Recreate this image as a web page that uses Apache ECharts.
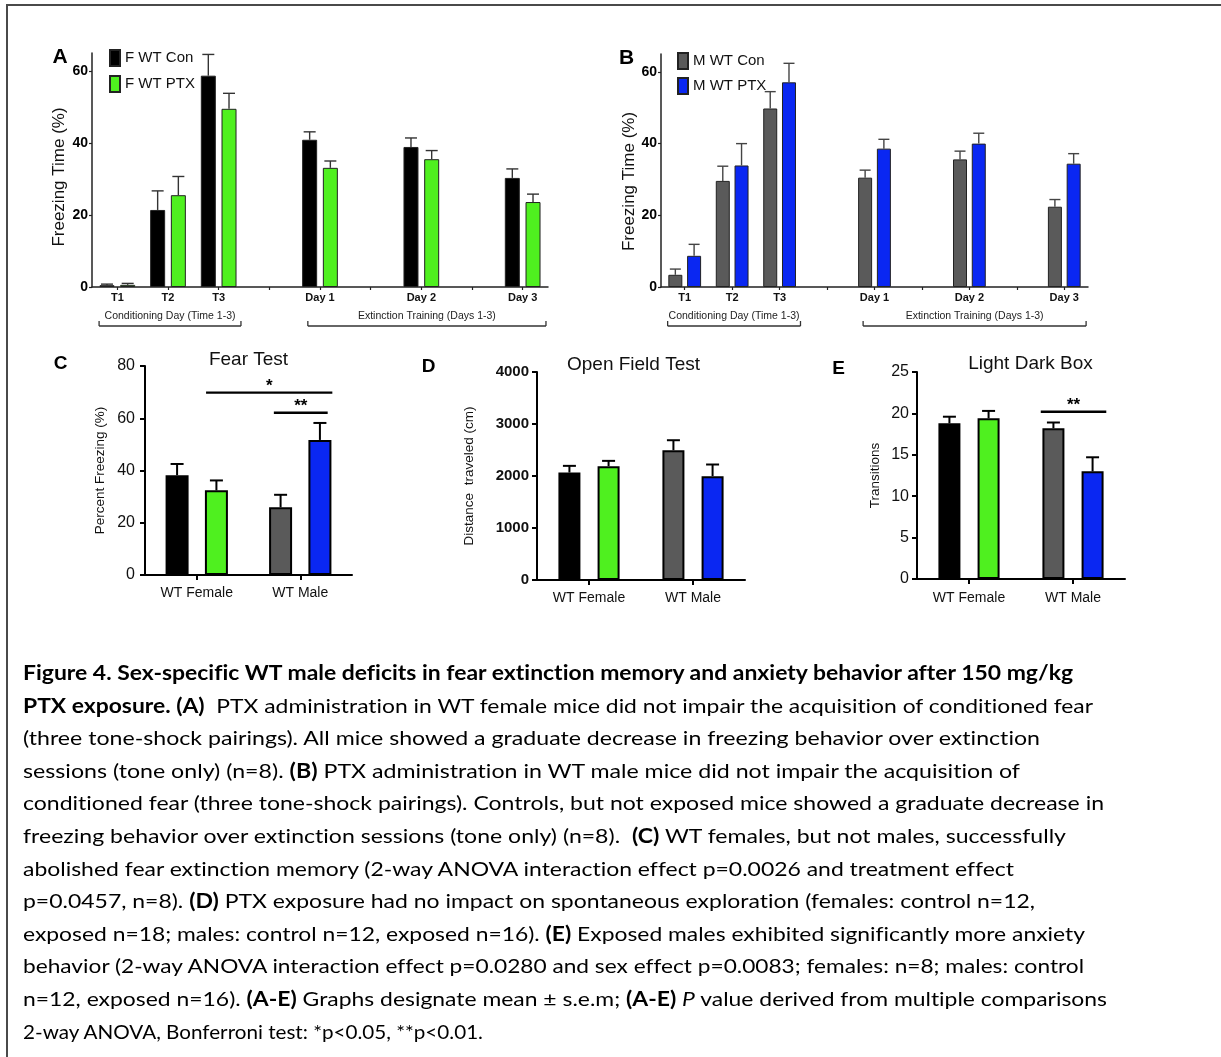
<!DOCTYPE html>
<html>
<head>
<meta charset="utf-8">
<script src="https://cdn.jsdelivr.net/npm/echarts@6/dist/echarts.min.js"></script>
<style>
  html, body { margin: 0; padding: 0; background: #fff; }
  #chart { position: absolute; left: 0; top: 0; width: 1221px; height: 1057px; }
  #frame { position: absolute; left: 6px; top: 4px; width: 1215px; height: 1053px;
           border-top: 2px solid #4a4a4a; border-left: 2px solid #4a4a4a; box-sizing: border-box; pointer-events: none; }
  #caption { position: absolute; left: 0; top: 0; width: 1221px; height: 1057px;
             font-family: Lato, "Open Sans", sans-serif; font-size: 20px; color: #000;
             font-variant-ligatures: none; font-feature-settings: "liga" 0, "dlig" 0; }
  .cl { position: absolute; left: 23px; white-space: pre; line-height: 32px; transform-origin: 0 50%; }
  .cl b { font-weight: 700; }
  .cl i { font-style: italic; }
</style>
</head>
<body>
<div id="chart"></div>
<div id="frame"></div>
<div id="caption"></div>
<script>
// ---------------- DATA ----------------
const slotsAB = ['T1', 'T2', 'T3', ' ', 'Day 1', '  ', 'Day 2', '   ', 'Day 3'];
const fConMean = [0.5, 21.4, 58.7, null, 40.9, null, 38.9, null, 30.3];
const fConSem  = [0.3, 5.3, 5.9, null, 2.2, null, 2.5, null, 2.5];
const fPtxMean = [0.6, 25.5, 49.5, null, 33.1, null, 35.5, null, 23.6];
const fPtxSem  = [0.4, 5.2, 4.3, null, 1.9, null, 2.4, null, 2.2];
const mConMean = [3.4, 29.6, 49.8, null, 30.5, null, 35.6, null, 22.4];
const mConSem  = [1.6, 4.1, 4.7, null, 2.1, null, 2.3, null, 2.0];
const mPtxMean = [8.7, 33.9, 57.1, null, 38.6, null, 40.0, null, 34.4];
const mPtxSem  = [3.2, 6.1, 5.3, null, 2.6, null, 2.9, null, 2.8];
const ticksAB = [0, 20, 40, 60];
const bracketLabels = ['Conditioning Day (Time 1-3)', 'Extinction Training (Days 1-3)'];
const bracketSpans = [[-0.36, 2.44], [3.76, 8.46]];

const groupsCDE = ['WT Female', 'WT Male'];
const fearConMean = [38.2, 25.9], fearConSem = [4.3, 4.8];
const fearPtxMean = [32.4, 51.7], fearPtxSem = [3.8, 6.5];
const ofConMean = [2067, 2496], ofConSem = [128, 192];
const ofPtxMean = [2189, 1997], ofPtxSem = [102, 224];
const ldConMean = [18.8, 18.2], ldConSem = [0.8, 0.7];
const ldPtxMean = [19.4, 13.0], ldPtxSem = [0.9, 1.7];
const ticksC = [0, 20, 40, 60, 80];
const ticksD = [0, 1000, 2000, 3000, 4000];
const ticksE = [0, 5, 10, 15, 20, 25];
const sigC = [{ from: 0.09, to: 1.31, y: 69.8, text: '*' }, { from: 0.745, to: 1.265, y: 62.1, text: '**' }];
const sigE = [{ from: 0.69, to: 1.32, y: 20.2, text: '**' }];

// ---------------- STYLE ----------------
const FONT = '"Liberation Sans", Arial, Helvetica, sans-serif';
const C_BLACK = '#000000', C_GREEN = '#4ff01f', C_GRAY = '#5a5a5a', C_BLUE = '#0a27f2';
const conColors = [C_BLACK, C_GRAY], ptxColors = [C_GREEN, C_BLUE];

const grids = [
  { left: 92, top: 53, width: 456, height: 234 },
  { left: 661, top: 54, width: 427, height: 233 },
  { left: 145, top: 366, width: 207, height: 209 },
  { left: 537, top: 372, width: 208, height: 208 },
  { left: 917, top: 372, width: 208, height: 207 }
];
const barCfg = [
  { w: 15, gap: 0.38, bw: 1, bc: '#222', cap: 6, elw: 1.4, ec: '#333' },
  { w: 14, gap: 0.34, bw: 1, bc: '#222', cap: 5.5, elw: 1.4, ec: '#444' },
  { w: 23, gap: 0.71, bw: 2, bc: '#000', cap: 6.5, elw: 2, ec: '#000' },
  { w: 22, gap: 0.78, bw: 2, bc: '#000', cap: 6.5, elw: 2, ec: '#000' },
  { w: 22, gap: 0.78, bw: 2, bc: '#000', cap: 6.5, elw: 2, ec: '#000' }
];

// ---------------- HELPERS ----------------
function errData(mean, sem) {
  const out = [];
  mean.forEach((m, i) => { if (m != null) out.push([i, m, m + sem[i]]); });
  return out;
}
function errRender(off, half, lw, color) {
  return function (params, api) {
    const x = api.value(0);
    const base = api.coord([x, api.value(1)]);
    const top = api.coord([x, api.value(2)]);
    const cx = base[0] + off;
    return {
      type: 'group', children: [
        { type: 'line', shape: { x1: cx, y1: base[1], x2: cx, y2: top[1] }, style: { stroke: color, lineWidth: lw, fill: 'none' } },
        { type: 'line', shape: { x1: cx - half, y1: top[1], x2: cx + half, y2: top[1] }, style: { stroke: color, lineWidth: lw, fill: 'none' } }
      ]
    };
  };
}
function textEl(x, y, text, font, fill) {
  return { type: 'text', x: x, y: y, silent: true,
    style: { text: text, font: font, fill: fill || '#000', align: 'center', verticalAlign: 'middle',
             textAlign: 'center', textVerticalAlign: 'middle' } };
}
function barSeries(name, gi, data, color, cfg) {
  return {
    type: 'bar', name: name, xAxisIndex: gi, yAxisIndex: gi, data: data,
    barWidth: cfg.w, barGap: (cfg.gap * 100) + '%',
    itemStyle: { color: color, borderColor: cfg.bc, borderWidth: cfg.bw },
    emphasis: { disabled: true }, z: 2
  };
}
function errSeries(gi, mean, sem, sign) {
  const cfg = barCfg[gi];
  const off = sign * cfg.w * (1 + cfg.gap) / 2;
  return {
    type: 'custom', xAxisIndex: gi, yAxisIndex: gi, data: errData(mean, sem),
    encode: { x: 0, y: [1, 2] }, renderItem: errRender(off, cfg.cap, cfg.elw, cfg.ec), z: 3, silent: true
  };
}
function sigSeries(gi, sigs) {
  return {
    type: 'custom', xAxisIndex: gi, yAxisIndex: gi, silent: true, z: 4,
    data: sigs.map(s => [0, s.y]), encode: { x: 0, y: 1 },
    renderItem: function (params, api) {
      const s = sigs[params.dataIndex];
      const c0 = api.coord([0, api.value(1)]);
      const w = api.size([1, 0])[0];
      const x1 = c0[0] + s.from * w, x2 = c0[0] + s.to * w;
      return { type: 'group', children: [
        { type: 'line', shape: { x1: x1, y1: c0[1], x2: x2, y2: c0[1] }, style: { stroke: '#000', lineWidth: 2.4, fill: 'none' } },
        textEl((x1 + x2) / 2, c0[1] - 6, s.text, 'bold 17px ' + FONT, '#000')
      ] };
    }
  };
}
function bracketSeries(gi) {
  return {
    type: 'custom', xAxisIndex: gi, yAxisIndex: gi, silent: true, z: 4, clip: false,
    data: bracketSpans.map(() => [0, 0]), encode: { x: 0, y: 1 },
    renderItem: function (params, api) {
      const sp = bracketSpans[params.dataIndex];
      const c0 = api.coord([0, 0]);
      const w = api.size([1, 0])[0];
      const x1 = c0[0] + sp[0] * w, x2 = c0[0] + sp[1] * w;
      const yl = c0[1] + 39;
      const st = { stroke: '#333', lineWidth: 1.3, fill: 'none' };
      return { type: 'group', children: [
        { type: 'line', shape: { x1: x1, y1: yl, x2: x2, y2: yl }, style: st },
        { type: 'line', shape: { x1: x1, y1: yl - 5, x2: x1, y2: yl }, style: st },
        { type: 'line', shape: { x1: x2, y1: yl - 5, x2: x2, y2: yl }, style: st },
        textEl((x1 + x2) / 2, c0[1] + 29.5, bracketLabels[params.dataIndex], '10.5px ' + FONT, '#222')
      ] };
    }
  };
}
function yAxisAB(gi, name, gap, pad) {
  return {
    gridIndex: gi, type: 'value', min: 0, max: 65, interval: 20,
    axisLine: { show: true, lineStyle: { color: '#222', width: 1.5 } },
    axisTick: { show: true, length: 3, customValues: ticksAB, lineStyle: { color: '#222', width: 1.2 } },
    axisLabel: { customValues: ticksAB, fontSize: 14, fontWeight: 'bold', color: '#000', margin: 4, fontFamily: FONT },
    splitLine: { show: false },
    name: name, nameLocation: 'middle', nameGap: gap,
    nameTextStyle: { fontSize: 17, color: '#111', fontFamily: FONT, padding: pad }
  };
}
function xAxisAB(gi) {
  return {
    gridIndex: gi, type: 'category', data: slotsAB,
    axisLine: { show: true, lineStyle: { color: '#222', width: 1.5 } },
    axisTick: { show: true, alignWithLabel: true, interval: 0, length: 3, lineStyle: { color: '#222', width: 1.2 } },
    axisLabel: { interval: 0, fontSize: 11, fontWeight: 'bold', color: '#111', margin: 5, fontFamily: FONT }
  };
}
function yAxisCDE(gi, max, interval, ticks, name, gap, lblBold, lblSize, margin) {
  return {
    gridIndex: gi, type: 'value', min: 0, max: max, interval: interval,
    axisLine: { show: true, lineStyle: { color: '#000', width: 2 } },
    axisTick: { show: true, length: 5, customValues: ticks, lineStyle: { color: '#000', width: 2 } },
    axisLabel: { customValues: ticks, fontSize: lblSize, fontWeight: lblBold ? 'bold' : 'normal', color: '#111',
                 margin: margin, fontFamily: FONT, formatter: v => String(v) },
    splitLine: { show: false },
    name: name, nameLocation: 'middle', nameGap: gap,
    nameTextStyle: { fontSize: 13.5, color: '#111', fontFamily: FONT }
  };
}
function xAxisCDE(gi, margin) {
  return {
    gridIndex: gi, type: 'category', data: groupsCDE,
    axisLine: { show: true, lineStyle: { color: '#000', width: 2 } },
    axisTick: { show: true, alignWithLabel: true, length: 5, lineStyle: { color: '#000', width: 2 } },
    axisLabel: { interval: 0, fontSize: 14, color: '#111', margin: margin, fontFamily: FONT }
  };
}
function colored(vals, colors) { return vals.map((v, i) => ({ value: v, itemStyle: { color: colors[i] } })); }

// ---------------- OPTION ----------------
const chart = echarts.init(document.getElementById('chart'), null, { renderer: 'canvas' });
const option = {
  animation: false,
  backgroundColor: '#fff',
  grid: grids,
  xAxis: [xAxisAB(0), xAxisAB(1), xAxisCDE(2, 11), xAxisCDE(3, 11), xAxisCDE(4, 12)],
  yAxis: [
    yAxisAB(0, 'Freezing Time (%)', 24, [0, 14, 0, 0]),
    yAxisAB(1, 'Freezing Time (%)', 21, [0, 22, 0, 0]),
    yAxisCDE(2, 80, 20, ticksC, 'Percent Freezing (%)', 38, false, 16, 10),
    yAxisCDE(3, 4000, 1000, ticksD, 'Distance  traveled (cm)', 61, true, 15, 8),
    yAxisCDE(4, 25, 5, ticksE, 'Transitions', 35, false, 16, 8)
  ],
  legend: [
    { data: ['F WT Con', 'F WT PTX'], left: 109, top: 49, orient: 'vertical', icon: 'rect',
      itemWidth: 10, itemHeight: 16, itemGap: 8, padding: 0, selectedMode: false,
      textStyle: { fontSize: 15, color: '#111', fontFamily: FONT } },
    { data: ['M WT Con', 'M WT PTX'], left: 677, top: 52, orient: 'vertical', icon: 'rect',
      itemWidth: 10, itemHeight: 16, itemGap: 7, padding: 0, selectedMode: false,
      textStyle: { fontSize: 15, color: '#111', fontFamily: FONT } }
  ],
  graphic: [
    textEl(60, 57.5, 'A', 'bold 21px ' + FONT),
    textEl(626.5, 58.5, 'B', 'bold 21px ' + FONT),
    textEl(60.5, 363.5, 'C', 'bold 19px ' + FONT),
    textEl(428.5, 366.5, 'D', 'bold 19px ' + FONT),
    textEl(838.5, 368.5, 'E', 'bold 19px ' + FONT),
    textEl(248.5, 360, 'Fear Test', '19px ' + FONT, '#111'),
    textEl(633.5, 365, 'Open Field Test', '19px ' + FONT, '#111'),
    textEl(1030.5, 363.5, 'Light Dark Box', '19px ' + FONT, '#111')
  ],
  series: [
    barSeries('F WT Con', 0, fConMean, C_BLACK, barCfg[0]),
    barSeries('F WT PTX', 0, fPtxMean, C_GREEN, barCfg[0]),
    errSeries(0, fConMean, fConSem, -1),
    errSeries(0, fPtxMean, fPtxSem, 1),
    bracketSeries(0),

    barSeries('M WT Con', 1, mConMean, C_GRAY, barCfg[1]),
    barSeries('M WT PTX', 1, mPtxMean, C_BLUE, barCfg[1]),
    errSeries(1, mConMean, mConSem, -1),
    errSeries(1, mPtxMean, mPtxSem, 1),
    bracketSeries(1),

    barSeries('Fear Con', 2, colored(fearConMean, conColors), C_BLACK, barCfg[2]),
    barSeries('Fear PTX', 2, colored(fearPtxMean, ptxColors), C_GREEN, barCfg[2]),
    errSeries(2, fearConMean, fearConSem, -1),
    errSeries(2, fearPtxMean, fearPtxSem, 1),
    sigSeries(2, sigC),

    barSeries('OF Con', 3, colored(ofConMean, conColors), C_BLACK, barCfg[3]),
    barSeries('OF PTX', 3, colored(ofPtxMean, ptxColors), C_GREEN, barCfg[3]),
    errSeries(3, ofConMean, ofConSem, -1),
    errSeries(3, ofPtxMean, ofPtxSem, 1),

    barSeries('LD Con', 4, colored(ldConMean, conColors), C_BLACK, barCfg[4]),
    barSeries('LD PTX', 4, colored(ldPtxMean, ptxColors), C_GREEN, barCfg[4]),
    errSeries(4, ldConMean, ldConSem, -1),
    errSeries(4, ldPtxMean, ldPtxSem, 1),
    sigSeries(4, sigE)
  ]
};
chart.setOption(option);

// ---------------- CAPTION ----------------
const captionLines = [
  [['b', 'Figure 4. Sex-specific WT male deficits in fear extinction memory and anxiety behavior after 150 mg/kg']],
  [['b', 'PTX exposure. (A)'], ['n', '  PTX administration in WT female mice did not impair the acquisition of conditioned fear']],
  [['n', '(three tone-shock pairings). All mice showed a graduate decrease in freezing behavior over extinction']],
  [['n', 'sessions (tone only) (n=8). '], ['b', '(B)'], ['n', ' PTX administration in WT male mice did not impair the acquisition of']],
  [['n', 'conditioned fear (three tone-shock pairings). Controls, but not exposed mice showed a graduate decrease in']],
  [['n', 'freezing behavior over extinction sessions (tone only) (n=8).  '], ['b', '(C)'], ['n', ' WT females, but not males, successfully']],
  [['n', 'abolished fear extinction memory (2-way ANOVA interaction effect p=0.0026 and treatment effect']],
  [['n', 'p=0.0457, n=8). '], ['b', '(D)'], ['n', ' PTX exposure had no impact on spontaneous exploration (females: control n=12,']],
  [['n', 'exposed n=18; males: control n=12, exposed n=16). '], ['b', '(E)'], ['n', ' Exposed males exhibited significantly more anxiety']],
  [['n', 'behavior (2-way ANOVA interaction effect p=0.0280 and sex effect p=0.0083; females: n=8; males: control']],
  [['n', 'n=12, exposed n=16). '], ['b', '(A-E)'], ['n', ' Graphs designate mean \u00b1 s.e.m; '], ['b', '(A-E)'], ['n', ' '], ['i', 'P'], ['n', ' value derived from multiple comparisons']],
  [['n', '2-way ANOVA, Bonferroni test: *p<0.05, **p<0.01.']]
];
const capLayout = { firstCenter: 672, step: 32.6, widths: [1050, 1070, 1017, 997, 1081, 1043, 991, 1012, 1062, 1061, 1084, 460] };
const cap = document.getElementById('caption');
captionLines.forEach((segs, i) => {
  const d = document.createElement('div');
  d.className = 'cl';
  d.style.top = (capLayout.firstCenter + i * capLayout.step - 16) + 'px';
  segs.forEach(s => {
    const el = document.createElement(s[0] === 'b' ? 'b' : (s[0] === 'i' ? 'i' : 'span'));
    el.textContent = s[1];
    d.appendChild(el);
  });
  cap.appendChild(d);
  const w = d.getBoundingClientRect().width;
  if (w > 0) d.style.transform = 'scaleX(' + (capLayout.widths[i] / w).toFixed(4) + ')';
});
</script>
</body>
</html>
